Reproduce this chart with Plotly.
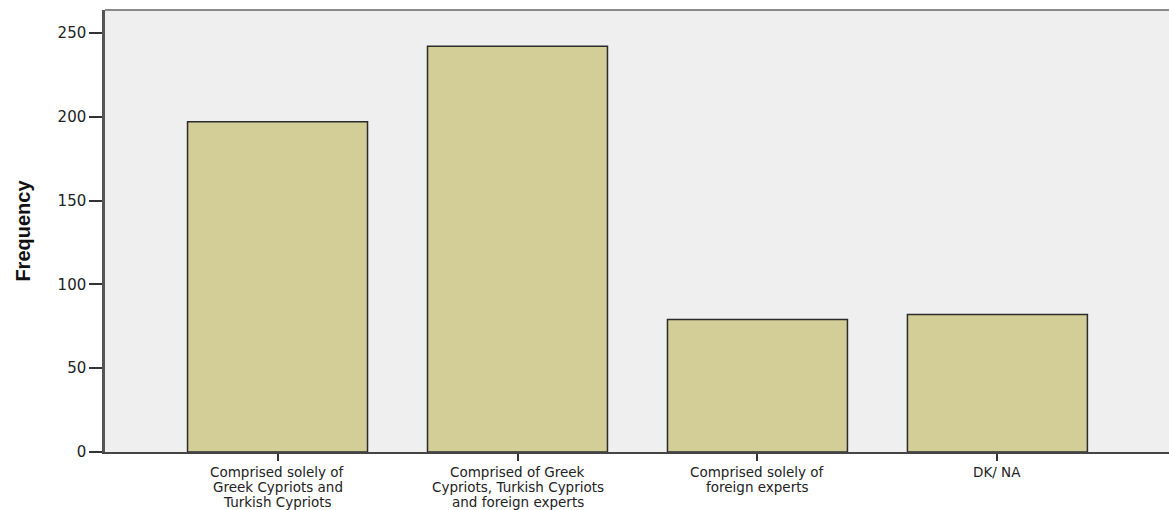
import plotly.graph_objects as go

# Category labels, one list of wrapped lines per bar
category_lines = [
    ["Comprised solely of", "Greek Cypriots and", "Turkish Cypriots"],
    ["Comprised of Greek", "Cypriots, Turkish Cypriots", "and foreign experts"],
    ["Comprised solely of", "foreign experts"],
    ["DK/ NA"],
]
categories = [" ".join(lines) for lines in category_lines]
frequency = [197, 242, 79, 82]
y_ticks = [0, 50, 100, 150, 200, 250]

x_pos = list(range(len(categories)))

fig = go.Figure()
fig.add_trace(go.Bar(
    x=x_pos,
    y=frequency,
    width=0.75,
    hovertext=categories,
    marker=dict(color="#D3CE97", line=dict(color="#2b2b2b", width=1.5)),
))

fig.update_layout(
    width=1169, height=510,
    margin=dict(l=105, r=0, t=10, b=58),
    paper_bgcolor="white",
    plot_bgcolor="#EFEFEF",
    showlegend=False,
    font=dict(family="DejaVu Sans, Arial, sans-serif", color="#222"),
)
fig.update_xaxes(
    range=[-0.719, 3.715],
    tickmode="array",
    tickvals=x_pos,
    showticklabels=False,
    ticks="outside", ticklen=7, tickcolor="#333", tickwidth=1.5,
    showline=True, linecolor="#444", linewidth=1.5,
    showgrid=False, zeroline=False,
)
fig.update_yaxes(
    range=[0, 263.7],
    tickmode="array",
    tickvals=y_ticks,
    ticks="outside", ticklen=13, tickcolor="#333", tickwidth=1.5,
    tickfont=dict(family="DejaVu Sans, Arial, sans-serif", size=15, color="#222"),
    showline=True, linecolor="#555", linewidth=2.5,
    showgrid=False, zeroline=False,
)
fig.add_shape(type="line", xref="paper", yref="paper", x0=0, x1=1, y0=1, y1=1,
              line=dict(color="#8a8a8a", width=2))

# wrapped category labels below the axis, one line each for tight spacing
for xi, lines in zip(x_pos, category_lines):
    for li, line in enumerate(lines):
        fig.add_annotation(
            text=line, xref="x", yref="paper", x=xi, y=0,
            xanchor="center", yanchor="top", showarrow=False,
            borderpad=0,
            yshift=-(11 + li * 15),
            font=dict(family="DejaVu Sans, Arial, sans-serif", size=13.5, color="#222"),
        )

fig.add_annotation(
    text="<b>Frequency</b>", textangle=-90,
    xref="paper", yref="paper", x=-0.0766, y=0.502,
    xanchor="center", yanchor="middle", showarrow=False,
    font=dict(family="Liberation Sans, Arial, sans-serif", size=20, color="#111"),
)

fig.write_html("out.html", config={"displayModeBar": False},
               post_script="document.body.style.margin='0';document.body.style.padding='0';")
